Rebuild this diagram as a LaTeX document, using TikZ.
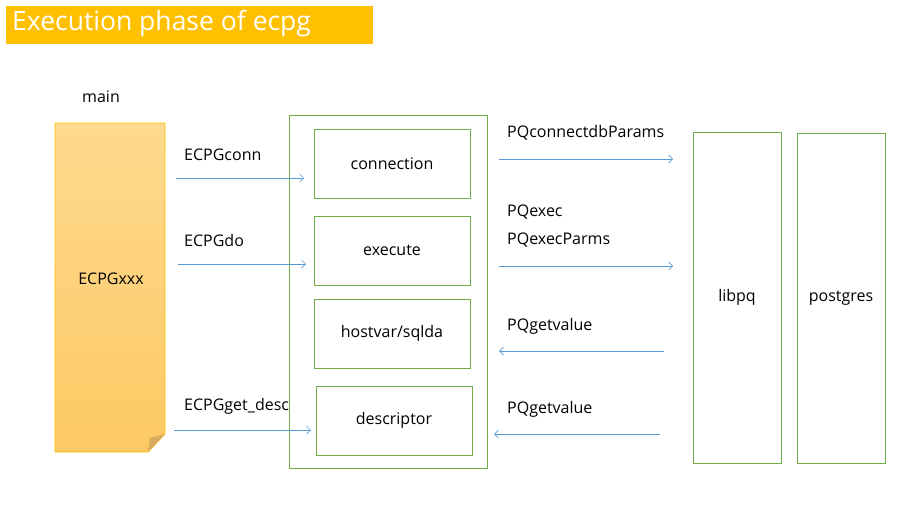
\documentclass[tikz,border=0pt]{standalone}
\usepackage{fontspec}
\setmainfont{Open Sans}
\usetikzlibrary{positioning,arrows.meta}
\definecolor{titleOrange}{HTML}{FFC000}
\definecolor{boxGreen}{HTML}{70AD47}
\definecolor{callBlue}{HTML}{5B9BD5}
\definecolor{noteTop}{HTML}{FFD98F}
\definecolor{noteBottom}{HTML}{FCCA64}
\definecolor{noteFold}{HTML}{D8AC5C}
\newcommand\labelFont{\fontsize{16}{19}\selectfont}
\tikzset{
		x=1pt, y=-1pt,
		stepBox/.style  = {draw=boxGreen, line width=0.8pt, minimum width=156pt, minimum height=69pt, font=\labelFont},
		libBox/.style   = {draw=boxGreen, line width=0.8pt, minimum width=88pt, font=\labelFont},
		callText/.style = {anchor=west, inner sep=0pt, font=\labelFont},
		callArrow/.style = {draw=callBlue, line width=0.7pt, -{Straight Barb[length=4pt,width=8pt]}},
		node distance=2.3cm
}

\begin{document}
\begin{tikzpicture}
  \useasboundingbox (0,0) rectangle (923,512);

  % Draw title bar
  \fill [titleOrange] (6,6) rectangle (373,44);
  \node [anchor=west, inner sep=0pt, text=white, font=\fontsize{26.5}{30}\selectfont] (title) at (12,24) {Execution phase of ecpg};

  % Draw main program as a note
  \shade [top color=noteTop, bottom color=noteBottom, draw=titleOrange, line width=0.8pt]
    (55,123) -- (165,123) -- (165,434) -- (148,452) -- (55,452) -- cycle;
  \fill [noteFold] (165,434) -- (150,438) -- (148,452) -- cycle;
  \node [font=\labelFont] (main) at (101,97) {main};
  \node [font=\labelFont] (ecpgxxx) at (111,279) {ECPGxxx};

  % Draw ecpglib with its parts
  \node [draw=boxGreen, line width=0.8pt, minimum width=198pt, minimum height=353pt] (ecpglib) at (388,291.5) {};
  \foreach \name/\x/\y/\txt in {connection/392/163.5/connection, execute/392/250.5/execute,
                               hostvar/392/333.5/{hostvar/sqlda}, descriptor/394/420.5/descriptor}
    \node [stepBox] (\name) at (\x,\y) {\txt};

  % Draw libpq and server
  \node [libBox, minimum height=331pt] (libpq) at (737,297.5) {libpq};
  \node [libBox, minimum height=330pt] (postgres) at (841,298) {postgres};

  % Draw calls into ecpglib
  \foreach \name/\xa/\xb/\y/\ly/\txt in {conn/176/304/178/155/ECPGconn, do/178/306/264/240/ECPGdo,
                                        getdesc/174/311/430/406/ECPGget\_desc}
  {
    \coordinate (\name From) at (\xa,\y);
    \coordinate (\name To) at (\xb,\y);
    \draw [callArrow] (\name From) -- (\name To);
    \node [callText] (\name Label) at (184,\ly) {\txt};
  }

  % Draw calls between ecpglib and libpq
  \foreach \name/\xa/\xb/\y in {connectdb/499/673/159, exec/499/673/266,
                               getvalueA/664/499/351, getvalueB/660/494/434}
  {
    \coordinate (\name From) at (\xa,\y);
    \coordinate (\name To) at (\xb,\y);
    \draw [callArrow] (\name From) -- (\name To);
  }
  \node [callText] (connectdbLabel) at (507,133) {PQconnectdbParams};
  \node [callText] (execLabel) at (507,212) {PQexec};
  \node [callText] (execParmsLabel) at (507,240) {PQexecParms};
  \node [callText] (getvalueALabel) at (507,326) {PQgetvalue};
  \node [callText] (getvalueBLabel) at (507,409) {PQgetvalue};

\end{tikzpicture}
\end{document}
